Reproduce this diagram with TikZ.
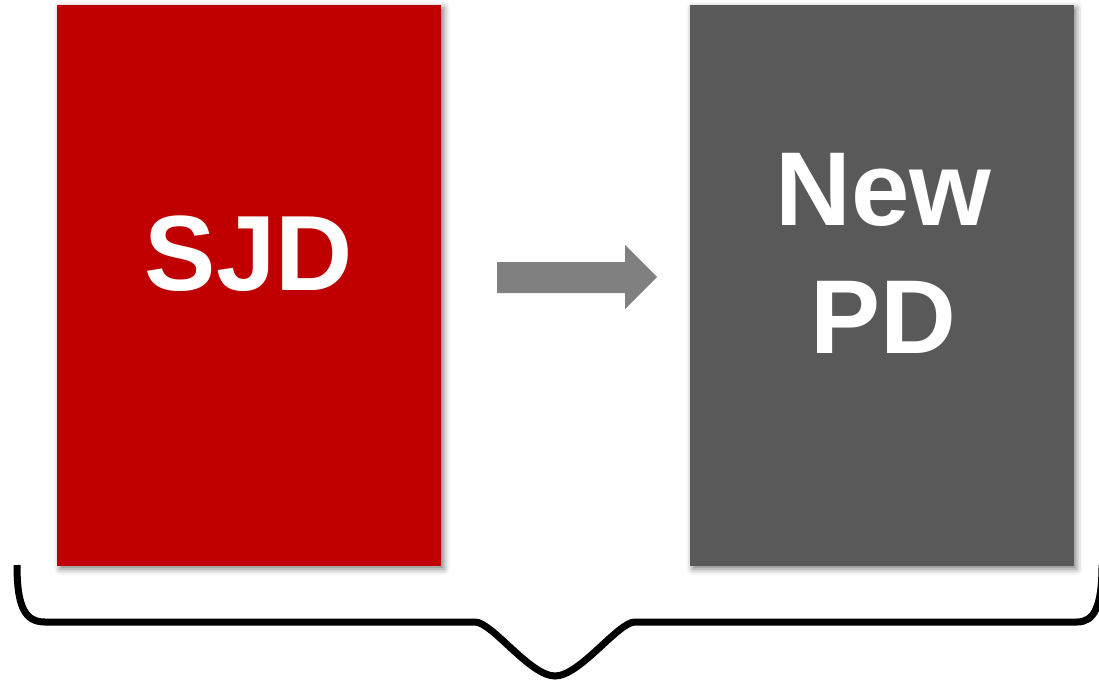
\documentclass[tikz,border=0pt]{standalone}
\usepackage{fontspec}
\setmainfont{Liberation Sans}
\usepackage{tikz}
\usetikzlibrary{shapes,arrows,shadows.blur,positioning}

\definecolor{sjdred}{HTML}{C00000}
\definecolor{pdgray}{HTML}{595959}
\definecolor{arrowgray}{HTML}{808080}

\begin{document}
\begin{tikzpicture}[x=1pt,y=-1pt]
			\tikzstyle{Box}		= [rectangle, draw=none, minimum width=384pt, minimum height=561pt, inner sep=0pt,
								   blur shadow={shadow xshift=3pt, shadow yshift=-3pt, shadow blur radius=6pt, shadow opacity=50}]
			\tikzstyle{Old}		= [fill=sjdred]
			\tikzstyle{New}		= [fill=pdgray]
			\tikzstyle{Label}	= [text=white, inner sep=0pt, anchor=base, font=\bfseries]
			\tikzstyle{Brace}	= [black, line width=7pt]

			\useasboundingbox (0,0) rectangle (1099,682);
			\clip (0,0) rectangle (1099,682);

			\node (sjd) at (249,285.5) [Box][Old] {};
			\node (pd)  at (881.5,285.5) [Box][New] {};

			\node (tsjd) at (249,290) [Label] {\fontsize{107}{120}\selectfont SJD};
			\node (tnew) at (883.5,225) [Label] {\fontsize{105}{120}\selectfont New};
			\node (tpd)  at (883.5,353) [Label] {\fontsize{105}{120}\selectfont PD};

			% arrow between the two boxes
			\fill [arrowgray] (497,262) -- (625,262) -- (625,245) -- (657,277)
				-- (625,309) -- (625,293) -- (497,293) -- cycle;

			% brace under both boxes
			\draw [Brace] (17,565) .. controls (17,607) and (25,622) .. (45,622)
				-- (475,622) .. controls (492,622) and (530,676) .. (555,676)
				.. controls (580,676) and (618,622) .. (635,622)
				-- (1077,622) .. controls (1094,622) and (1102,607) .. (1102,565);
		\end{tikzpicture}
\end{document}
